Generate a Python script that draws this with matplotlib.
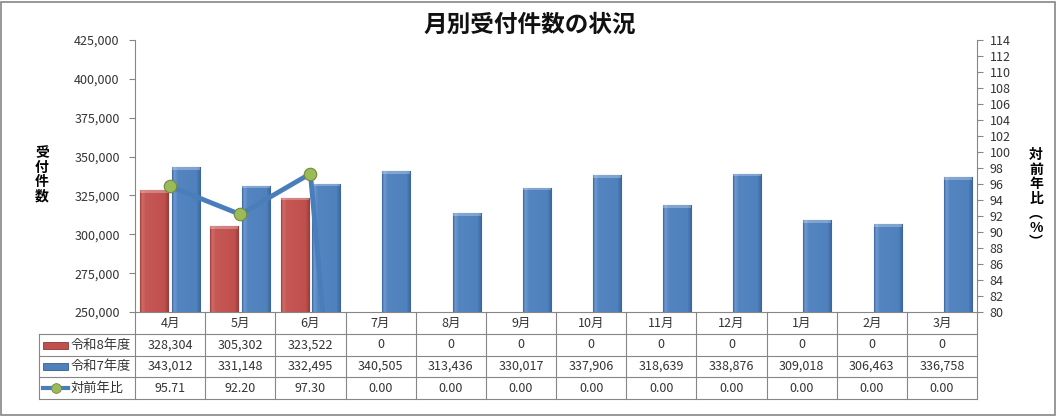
import matplotlib
matplotlib.use('Agg')
import numpy as np
import matplotlib.pyplot as plt
import matplotlib.transforms as mtransforms
from matplotlib.patches import Rectangle
from matplotlib.lines import Line2D
from matplotlib.colors import LinearSegmentedColormap
from matplotlib.ticker import FuncFormatter, MultipleLocator

plt.rcParams['font.family'] = ['Noto Sans CJK JP', 'DejaVu Sans']

# data
months = ['4月', '5月', '6月', '7月', '8月', '9月', '10月', '11月', '12月', '1月', '2月', '3月']
r8 = [328304, 305302, 323522, 0, 0, 0, 0, 0, 0, 0, 0, 0]
r7 = [343012, 331148, 332495, 340505, 313436, 330017, 337906, 318639, 338876, 309018, 306463, 336758]
ratio = [95.71, 92.20, 97.30, 0, 0, 0, 0, 0, 0, 0, 0, 0]
series_names = ['令和8年度', '令和7年度', '対前年比']

red, red_dk = '#C0504D', '#8C3836'
blue, blue_dk = '#4F81BD', '#385D8A'
red_grad = [(0, '#9E3D3A'), (0.07, '#D06B68'), (0.2, '#C55754'), (0.85, '#C0504D'), (1, '#9A3A37')]
blue_grad = [(0, '#3A6499'), (0.07, '#6E9AD0'), (0.2, '#5485C1'), (0.85, '#4F81BD'), (1, '#3A6499')]
line_col = '#4A7EBB'
green, green_dk = '#9BBB59', '#71893F'
gray = '#868686'
txt = '#333333'

W, H = 1060, 416
fig = plt.figure(figsize=(W / 100, H / 100), dpi=100)
L, R, T, B = 135, 977, 40, 312
ax = fig.add_axes([L / W, 1 - B / H, (R - L) / W, (B - T) / H])

ymin, ymax = 250000, 425000
x = list(range(len(months)))
bars8 = ax.bar([i - 0.225 for i in x], r8, width=0.4, color=red, edgecolor=red_dk, lw=0.8, zorder=2)
bars7 = ax.bar([i + 0.225 for i in x], r7, width=0.4, color=blue, edgecolor=blue_dk, lw=0.8, zorder=2)


def shade(bars, stops):
    # bevel-like shading inside each bar
    cmap = LinearSegmentedColormap.from_list('bevel', stops)
    grad = np.linspace(0, 1, 128).reshape(1, -1)
    for p in bars:
        x0, w, h = p.get_x(), p.get_width(), p.get_height()
        if h <= ymin:
            continue
        im = ax.imshow(grad, cmap=cmap, extent=[x0, x0 + w, ymin, h], aspect='auto',
                       interpolation='bilinear', zorder=2.1)
        im.set_clip_path(p)
        ax.add_patch(Rectangle((x0, h - 1600), w, 1600, facecolor='white', alpha=0.28,
                               lw=0, zorder=2.2))


shade(bars8, red_grad)
shade(bars7, blue_grad)

ax.set_xlim(-0.5, len(months) - 0.5)
ax.set_ylim(ymin, ymax)
ax.yaxis.set_major_locator(MultipleLocator(25000))
ax.yaxis.set_major_formatter(FuncFormatter(lambda v, p: f'{v:,.0f}'))
ax.set_xticks([])
for s in ['top', 'bottom', 'right']:
    ax.spines[s].set_visible(False)
ax.spines['left'].set_color(gray)
ax.tick_params(axis='y', direction='out', length=4, color=gray, labelsize=9,
               labelcolor=txt, pad=7)

ax2 = ax.twinx()
ax2.plot(x, ratio, color=line_col, lw=3.5, marker='o', ms=9, mfc=green, mec=green_dk,
         mew=0.8, zorder=3)
ax2.set_ylim(80, 114)
ax2.yaxis.set_major_locator(MultipleLocator(2))
for s in ['top', 'bottom', 'left']:
    ax2.spines[s].set_visible(False)
ax2.spines['right'].set_color(gray)
ax2.tick_params(axis='y', direction='out', length=4, color=gray, labelsize=9,
                labelcolor=txt, pad=5)

# axis titles (stacked vertical text)
fig.text(42 / W, 1 - 175 / H, '\n'.join('受付件数'), ha='center', va='center',
         fontsize=10, weight='bold', linespacing=1.05)
fig.text(1036 / W, 1 - 199 / H, '\n'.join('対前年比︵%︶'), ha='center', va='center',
         fontsize=10, weight='bold', linespacing=1.05)

fig.text(0.5, 1 - 25 / H, '月別受付件数の状況', ha='center', va='center',
         fontsize=17, weight='bold', color='#111111')

# data table below the plot
tr = mtransforms.blended_transform_factory(ax.transData, ax.transAxes)
ax_h = B - T
cat_px = (R - L) / len(months)
row_px = [22, 22, 21, 22]
ys = [0]
for h in row_px:
    ys.append(ys[-1] - h / ax_h)
x_leg = -0.5 - (L - 39) / cat_px
x_right = len(months) - 0.5

kw = dict(color=gray, lw=0.8, transform=tr, clip_on=False)
ax.add_line(Line2D([-0.5, x_right], [ys[0], ys[0]], **kw))
for y in ys[1:]:
    ax.add_line(Line2D([x_leg, x_right], [y, y], **kw))
for b in [i - 0.5 for i in range(len(months) + 1)]:
    ax.add_line(Line2D([b, b], [ys[0], ys[-1]], **kw))
ax.add_line(Line2D([x_leg, x_leg], [ys[1], ys[-1]], **kw))

rows = [[f'{v:,}' for v in r8], [f'{v:,}' for v in r7], [f'{v:.2f}' for v in ratio]]
for i, m in enumerate(months):
    ax.text(i, (ys[0] + ys[1]) / 2, m, ha='center', va='center', fontsize=9,
            color=txt, transform=tr, clip_on=False)
for r, vals in enumerate(rows):
    yc = (ys[r + 1] + ys[r + 2]) / 2
    for i, v in enumerate(vals):
        ax.text(i, yc, v, ha='center', va='center', fontsize=9, color=txt,
                transform=tr, clip_on=False)

# legend keys in the table row labels
sw0 = -0.5 - (L - 43) / cat_px
sw1 = -0.5 - (L - 68) / cat_px
tx = -0.5 - (L - 71) / cat_px
sw_h = 7 / ax_h
for r, (name, fc, ec) in enumerate(zip(series_names, [red, blue, None], [red_dk, blue_dk, None])):
    yc = (ys[r + 1] + ys[r + 2]) / 2
    if fc:
        ax.add_patch(Rectangle((sw0, yc - sw_h / 2), sw1 - sw0, sw_h, facecolor=fc,
                               edgecolor=ec, lw=0.6, transform=tr, clip_on=False))
    else:
        ax.add_line(Line2D([sw0, sw1], [yc, yc], color=line_col, lw=3, transform=tr,
                           clip_on=False))
        ax.add_line(Line2D([(sw0 + sw1) / 2], [yc], marker='o', ms=7, mfc=green,
                           mec=green_dk, mew=0.6, transform=tr, clip_on=False))
    ax.text(tx, yc, name, ha='left', va='center', fontsize=9.5, color=txt,
            transform=tr, clip_on=False)

# chart border
fig.patches.append(Rectangle((1 / W, 1 / H), 1054 / W, 413 / H, transform=fig.transFigure,
                             fill=False, edgecolor=gray, lw=1.2))

fig.savefig('out.png', dpi=100)
